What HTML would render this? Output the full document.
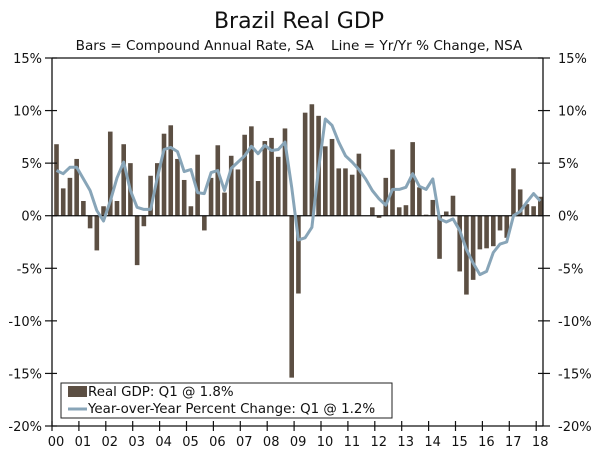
<!DOCTYPE html>
<html><head><meta charset="utf-8"><style>
body{margin:0;background:#fff;width:600px;height:457px;overflow:hidden;font-family:"DejaVu Sans","Liberation Sans",sans-serif}
svg text{font-family:"DejaVu Sans","Liberation Sans",sans-serif;fill:#111}
</style></head><body>
<svg id="chart" width="600" height="457" viewBox="0 0 600 457" xmlns="http://www.w3.org/2000/svg">
<text x="299" y="28" font-size="22" text-anchor="middle">Brazil Real GDP</text>
<text x="299" y="50" font-size="13.6" text-anchor="middle" xml:space="preserve">Bars = Compound Annual Rate, SA    Line = Yr/Yr % Change, NSA</text>
<g id="plot"></g>
<g>
<rect x="61" y="383" width="331" height="35" fill="#fff" stroke="#222" stroke-width="1"/>
<rect x="68" y="386" width="19" height="11" fill="#5c4f43"/>
<text x="88" y="396" font-size="13.4">Real GDP: Q1 @ 1.8%</text>
<line x1="68" y1="409" x2="87" y2="409" stroke="#88a5b8" stroke-width="3"/>
<text x="88" y="413" font-size="13.4">Year-over-Year Percent Change: Q1 @ 1.2%</text>
</g>
</svg>
<script>
const years = ["00","01","02","03","04","05","06","07","08","09","10","11","12","13","14","15","16","17","18"];
const yTicks = [15,10,5,0,-5,-10,-15,-20];
const barValues = [6.8,2.6,3.6,5.4, 1.4,-1.2,-3.3,0.9, 8.0,1.4,6.8,5.0, -4.7,-1.0,3.8,5.0, 7.8,8.6,5.4,3.4, 0.9,5.8,-1.4,3.6, 6.7,2.2,5.7,4.4, 7.7,8.5,3.3,7.1, 7.4,5.6,8.3,-15.4, -7.4,9.8,10.6,9.5, 6.6,7.3,4.5,4.5, 3.9,5.9,0.0,0.8, -0.2,3.6,6.3,0.8, 1.0,7.0,2.7,0.1, 1.5,-4.1,0.4,1.9, -5.3,-7.5,-6.1,-3.2, -3.1,-2.9,-1.4,-2.1, 4.5,2.5,1.1,0.9, 1.8];
const yoyValues = [4.3,4.0,4.6,4.6, 3.5,2.4,0.5,-0.5, 1.4,3.6,5.1,2.4, 0.8,0.6,0.6,3.6, 6.3,6.5,6.1,4.2, 4.4,2.2,2.1,4.1, 4.3,2.4,4.5,5.1, 5.7,6.6,5.9,6.7, 6.2,6.3,7.0,2.7, -2.3,-2.1,-1.1,4.5, 9.2,8.6,7.0,5.7, 5.1,4.4,3.5,2.4, 1.6,1.0,2.5,2.5, 2.7,4.0,2.8,2.5, 3.5,-0.3,-0.6,-0.3, -1.4,-3.2,-4.5,-5.6, -5.3,-3.5,-2.7,-2.5, 0.0,0.4,1.3,2.1, 1.4];

const L=52,R=543,T=58,B=426;
const yMax=15,yMin=-20;
const y=v=>T+(yMax-v)/(yMax-yMin)*(B-T);
const x=i=>56.5+i*6.72;
const yearX=k=>L+k*26.9;
const ns="http://www.w3.org/2000/svg";
const g=document.getElementById('plot');
function mk(tag,attrs){const e=document.createElementNS(ns,tag);for(const k in attrs)e.setAttribute(k,attrs[k]);g.appendChild(e);return e;}

barValues.forEach((v,i)=>{
  const b=mk('rect',{x:x(i)-2.3,y:Math.min(y(v),y(0)),width:4.6,height:Math.abs(y(v)-y(0)),fill:'#5c4f43'});
  
  
});
const z=mk('line',{x1:L,x2:R,y1:y(0),y2:y(0),stroke:'#111','stroke-width':1.2});


const pts=yoyValues.map((v,i)=>x(i).toFixed(1)+','+y(v).toFixed(1)).join(' ');
const pl=mk('polyline',{points:pts,fill:'none',stroke:'#88a5b8','stroke-width':3,'stroke-linejoin':'round'});



const ax=[[L,T,L,B],[R,T,R,B],[L,T,R,T],[L,B,R,B]];
ax.forEach(a=>{const e=mk('line',{x1:a[0],y1:a[1],x2:a[2],y2:a[3],stroke:'#111','stroke-width':1.3});
  
  });
yTicks.forEach(t=>{
  const yy=y(t);
  const t1=mk('line',{x1:L-7,x2:L+5,y1:yy,y2:yy,stroke:'#111','stroke-width':1.2});
  
  
  const t2=mk('line',{x1:R-5,x2:R+7,y1:yy,y2:yy,stroke:'#111','stroke-width':1.2});
  
  
  const l1=mk('text',{x:L-10,y:yy+5,'font-size':13,'text-anchor':'end'});l1.textContent=t+'%';
  
  
  const l2=mk('text',{x:R+15,y:yy+5,'font-size':13,'text-anchor':'start'});l2.textContent=t+'%';
  
  
});
years.forEach((yr,k)=>{
  const xx=yearX(k);
  const t=mk('line',{x1:xx,x2:xx,y1:B-5,y2:B+5,stroke:'#111','stroke-width':1.2});
  
  
  const l=mk('text',{x:xx+4,y:B+20,'font-size':13,'text-anchor':'middle'});l.textContent=yr;
  
  
});
</script>
</body></html>
